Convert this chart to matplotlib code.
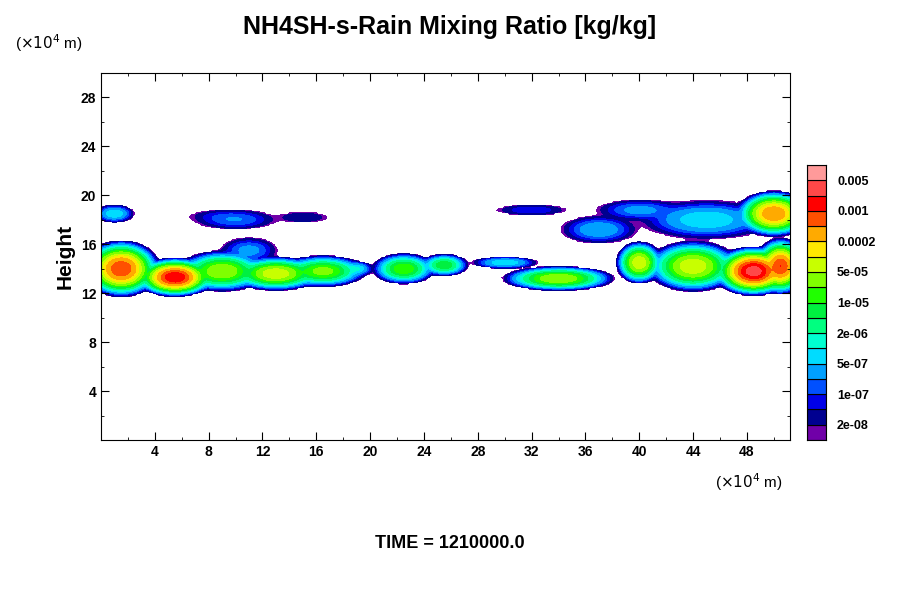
import numpy as np
import matplotlib
matplotlib.use("Agg")
import matplotlib.pyplot as plt
from matplotlib.colors import ListedColormap, BoundaryNorm

plt.rcParams["font.family"] = ["Liberation Sans", "DejaVu Sans"]

levels = [2e-8,5e-8,1e-7,2e-7,5e-7,1e-6,2e-6,5e-6,1e-5,2e-5,5e-5,1e-4,2e-4,5e-4,1e-3,2e-3,5e-3]
colors = ["#7000a8","#000090","#0000e8","#0050ff","#00a0ff","#00dcff","#00ffd0","#00ff80",
          "#00f040","#20ff00","#80ff00","#c8ff00","#ffe800","#ffaa00","#ff5000","#ff0000","#ff4848","#ff9a9a"]
tick_labels = ["2e-08","1e-07","5e-07","2e-06","1e-05","5e-05","0.0002","0.001","0.005"]
tick_vals = [2e-8,1e-7,5e-7,2e-6,1e-5,5e-5,2e-4,1e-3,5e-3]

# blob descriptions: x center, z center, x width, z width, peak value
blob_x  = [1.5, 5.5, 9, 13, 16.5, 19, 22.5, 25.5, 34, 40, 44, 48.5, 50.5, 1, 10, 15, 11, 32, 37, 45, 50, 30, 9, 40]
blob_z  = [14.0,13.3,13.8,13.6,13.8,14,14,14.3,13.2,14.5,14.2,13.8,14.2,18.5,18.0,18.2,15.5,18.8,17.2,18.0,18.5,14.5,18.3,18.8]
blob_sx = [1.5,1.5,2,2,2,1,1.5,1.2,2.5,1,2,1.5,1,1.2,3,2.5,2,3,2.5,4,1.5,2,3,3]
blob_sz = [1.2,0.8,1.0,0.8,0.8,0.5,0.8,0.6,0.6,1,1.2,1.0,1.2,0.6,0.8,0.6,1,0.5,1.0,1.3,1,0.4,0.6,0.8]
blob_a  = [1e-3,2e-3,5e-5,1e-4,3e-5,1e-6,2e-5,1e-5,5e-5,1e-4,1e-4,3e-3,1e-3,1e-6,2e-7,5e-8,3e-7,1e-7,5e-7,1e-6,5e-4,1e-6,5e-8,3e-7]

x = np.linspace(0, 51.2, 520)
z = np.linspace(0, 30, 300)
X, Z = np.meshgrid(x, z)
F = np.zeros_like(X)
for bx, bz, sx, sz, a in zip(blob_x, blob_z, blob_sx, blob_sz, blob_a):
    F += a * np.exp(-0.5 * (((X - bx) / sx) ** 2 + ((Z - bz) / sz) ** 2) * 6)
F = np.ma.masked_less(F, 1e-8)

fig = plt.figure(figsize=(9, 6), dpi=100)
ax = fig.add_axes([101/900, 1-440/600, 689/900, 367/600])
cmap = ListedColormap(colors)
norm = BoundaryNorm([1e-8] + levels + [1], cmap.N)
cs = ax.contourf(X, Z, F, levels=[1e-8] + levels + [1], cmap=cmap, norm=norm)
ax.set_xlim(0, 51.2); ax.set_ylim(0, 30)
ax.set_xticks(np.arange(4, 51, 4)); ax.set_yticks(np.arange(4, 29, 4))
ax.set_xticks(np.arange(2, 51, 2), minor=True); ax.set_yticks(np.arange(2, 30, 2), minor=True)
ax.tick_params(which="both", direction="in", top=True, right=True, labelsize=10)
ax.tick_params(which="major", length=6)
for l in ax.get_xticklabels() + ax.get_yticklabels():
    l.set_fontweight("bold")
ax.set_ylabel("Height", fontsize=15, fontweight="bold")
fig.text(0.5, 0.975, "NH4SH-s-Rain Mixing Ratio [kg/kg]", ha="center", va="top", fontsize=18, fontweight="bold")
fig.text(15/900, 1-43/600, r"($\times10^4$ m)", fontsize=11, va="center")
fig.text(715/900, 1-482/600, r"($\times10^4$ m)", fontsize=11, va="center")
fig.text(0.5, 1-543/600, "TIME = 1210000.0", ha="center", va="center", fontsize=13, fontweight="bold")

cax = fig.add_axes([807/900, 1-440/600, 19/900, 275/600])
n = len(colors)
for i, c in enumerate(colors):
    cax.add_patch(plt.Rectangle((0, i), 1, 1, facecolor=c, edgecolor="black", lw=0.8))
cax.set_xlim(0, 1); cax.set_ylim(0, n)
cax.set_xticks([])
cax.set_yticks([levels.index(v) + 1 for v in tick_vals])
cax.set_yticklabels(tick_labels, fontsize=9, fontweight="bold")
cax.yaxis.tick_right()
cax.tick_params(length=0, pad=8)
fig.savefig("out.png", dpi=100)
